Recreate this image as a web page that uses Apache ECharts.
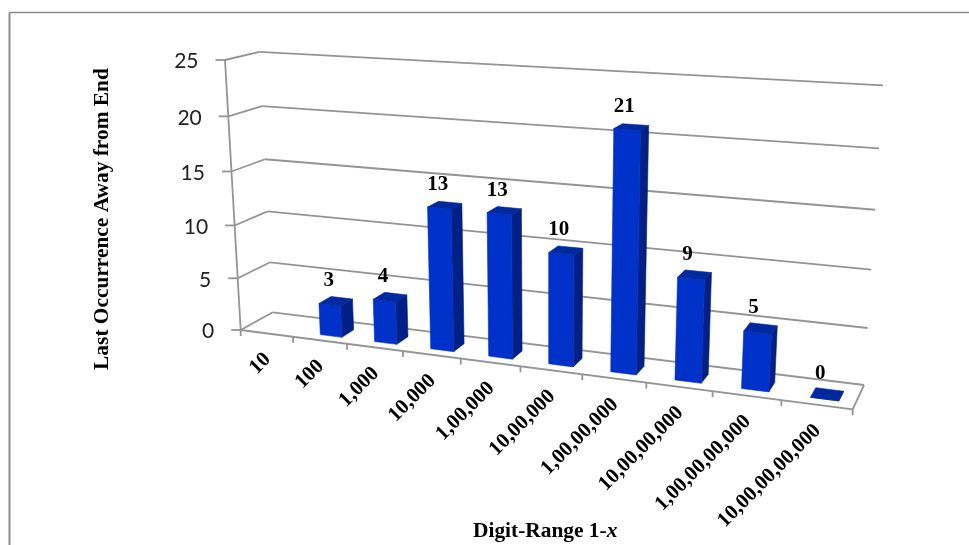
<!DOCTYPE html>
<html>
<head>
<meta charset="utf-8">
<style>html,body{margin:0;padding:0;background:#fff}#chart{width:969px;height:545px}</style>
<script src="https://cdn.jsdelivr.net/npm/echarts@6/dist/echarts.min.js"></script>
</head>
<body>
<div id="chart"></div>
<script>
// Chart content
var categories = ['10','100','1,000','10,000','1,00,000','10,00,000','1,00,00,000','10,00,00,000','1,00,00,00,000','10,00,00,00,000'];
var lastOccurrence = [null,3,4,13,13,10,21,9,5,0];
var yTicks = [0,5,10,15,20,25];
var yMax = 25;
var yTitle = 'Last Occurrence Away from End';

// Box corners on screen, used to build the perspective camera
var O = [240.7,330,1], A = [852.7,409.3,1], B = [272.7,312.3,1], C = [225,60,1];
var F = [864,385,1], G = [259.3,51.7,1];
// Small shear pulling the upper right of the box into place
var shear = [-2.3,6];

// Hidden cartesian grid supplying the scales
var gx = 100, gy = 100, gw = 500, gh = 300;

function det3(m){return m[0][0]*(m[1][1]*m[2][2]-m[1][2]*m[2][1])-m[0][1]*(m[1][0]*m[2][2]-m[1][2]*m[2][0])+m[0][2]*(m[1][0]*m[2][1]-m[1][1]*m[2][0]);}
function solve3(c1,c2,c3,r){
  function M(a,b,c){return [[a[0],b[0],c[0]],[a[1],b[1],c[1]],[a[2],b[2],c[2]]];}
  var d = det3(M(c1,c2,c3));
  return [det3(M(r,c2,c3))/d, det3(M(c1,r,c3))/d, det3(M(c1,c2,r))/d];
}
var s1 = solve3(A,B,F.map(function(n){return -n;}),O);
var a = s1[0], b = s1[1];
var cw = (G[0]*(1-b) - (O[0]-b*B[0]))/(G[0]-C[0]);
function col(w,P){return [w*P[0]-O[0], w*P[1]-O[1], w*P[2]-O[2]];}
var X = col(a,A), D = col(b,B), V = col(cw,C);

// Maps slot fraction, depth fraction and height fraction to the screen
function project(u,d,h){
  var p = [0,1,2].map(function(k){return O[k]+u*X[k]+d*D[k]+h*V[k];});
  return [p[0]/p[2]+shear[0]*u*h, p[1]/p[2]+shear[1]*u*h];
}
function norm(pt){return [(pt[0]-gx)/gw,(gy+gh-pt[1])/gh];}

var gridColor = '#949494', lw = 1.8;
var serif = '"Liberation Serif","Times New Roman",serif';
function seg(p,q,w){
  return {type:'line',shape:{x1:p[0],y1:p[1],x2:q[0],y2:q[1]},style:{stroke:gridColor,lineWidth:w||lw},silent:true};
}
function poly(pts,color){
  return {type:'polygon',shape:{points:pts},style:{fill:color,stroke:color,lineWidth:0.6},silent:true};
}

function renderWall(params,api){
  var h = norm(api.coord([0,api.value(1)]))[1];
  var f = project(0,0,h), bl = project(0,1,h), br = project(1,1,h);
  var tickEnd = [f[0]-9.5,f[1]];
  var kids = [seg(f,bl),seg(bl,br),seg(tickEnd,f),{
    type:'text',x:f[0]-26.5,y:f[1]+1.5,
    style:{text:String(api.value(1)),font:'21px Lato',fill:'#222',align:'right',verticalAlign:'middle'},silent:true
  }];
  return {type:'group',children:kids};
}

function renderFloor(params,api){
  var i = api.value(0), n = categories.length;
  var band = api.size([1,0])[0]/gw;
  var mid = norm(api.coord([i,0]))[0];
  var kids = [];
  var t = project(mid-band/2,0,0);
  kids.push(seg(t,[t[0],t[1]+6]));
  if(i===n-1){
    var e = project(1,0,0);
    kids.push(seg(e,[e[0],e[1]+6]));
    kids.push(seg(project(0,0,0),e));
    kids.push(seg(e,project(1,1,0)));
    kids.push(seg(project(0,0,1),project(0,0,0)));
  }
  var c = project(mid,0,0);
  kids.push({
    type:'text',x:c[0]+1,y:c[1]+23,rotation:Math.PI/4,
    style:{text:categories[i],font:'bold 21px '+serif,fill:'#000',align:'right',verticalAlign:'middle'},silent:true
  });
  return {type:'group',children:kids};
}

var barWidthShare = 0.4, d0 = 0.25, d1 = 0.65, slotShift = 0.0065;
function renderBar(params,api){
  var val = api.value(1);
  if(val==null || isNaN(val)) return null;
  var i = api.value(0);
  var band = api.size([1,0])[0]/gw;
  var mid = norm(api.coord([i,0]))[0]+slotShift;
  var h = norm(api.coord([i,val]))[1];
  var u0 = mid-band*barWidthShare/2, u1 = mid+band*barWidthShare/2;
  var fbl=project(u0,d0,0), fbr=project(u1,d0,0), bbr=project(u1,d1,0);
  var ftl=project(u0,d0,h), ftr=project(u1,d0,h), btr=project(u1,d1,h), btl=project(u0,d1,h);
  var topMid=project(mid,(d0+d1)/2,h);
  return {type:'group',children:[
    poly([fbr,bbr,btr,ftr],'#002085'),
    poly([fbl,fbr,ftr,ftl],'#0031C8'),
    poly([ftl,ftr,btr,btl],'#00289F'),
    {type:'text',x:topMid[0]-7,y:topMid[1]-20.5,z2:10,
     style:{text:String(val),font:'bold 21px '+serif,fill:'#000',align:'center',verticalAlign:'middle'},silent:true}
  ]};
}

var chart = echarts.init(document.getElementById('chart'),null,{renderer:'canvas'});
chart.setOption({
  animation:false,
  backgroundColor:'#fff',
  grid:{left:gx,top:gy,width:gw,height:gh},
  xAxis:{type:'category',data:categories,show:false},
  yAxis:{type:'value',min:0,max:yMax,show:false},
  graphic:[
    {type:'line',shape:{x1:9.5,y1:545,x2:9.5,y2:12.5},style:{stroke:'#8c8c8c',lineWidth:2}},
    {type:'line',shape:{x1:9.5,y1:12.5,x2:969,y2:12.5},style:{stroke:'#8c8c8c',lineWidth:1.5}},
    {type:'text',x:102,y:219,rotation:Math.PI/2,
     style:{text:yTitle,font:'bold 21.4px '+serif,fill:'#000',align:'center',verticalAlign:'middle'}},
    {type:'text',x:473,y:531,
     style:{text:'{b|Digit-Range 1-}{i|x}',fill:'#000',align:'left',verticalAlign:'middle',
       rich:{b:{font:'bold 21.4px '+serif,fill:'#000'},i:{font:'italic bold 21.4px '+serif,fill:'#000'}}}}
  ],
  series:[
    {type:'custom',coordinateSystem:'cartesian2d',data:yTicks.map(function(v){return [0,v];}),renderItem:renderWall,z:1,silent:true},
    {type:'custom',coordinateSystem:'cartesian2d',data:categories.map(function(c,i){return [i,0];}),renderItem:renderFloor,z:2,silent:true},
    {type:'custom',coordinateSystem:'cartesian2d',data:lastOccurrence.map(function(v,i){return [i,v];}),renderItem:renderBar,z:3,silent:true}
  ]
});
</script>
</body>
</html>
